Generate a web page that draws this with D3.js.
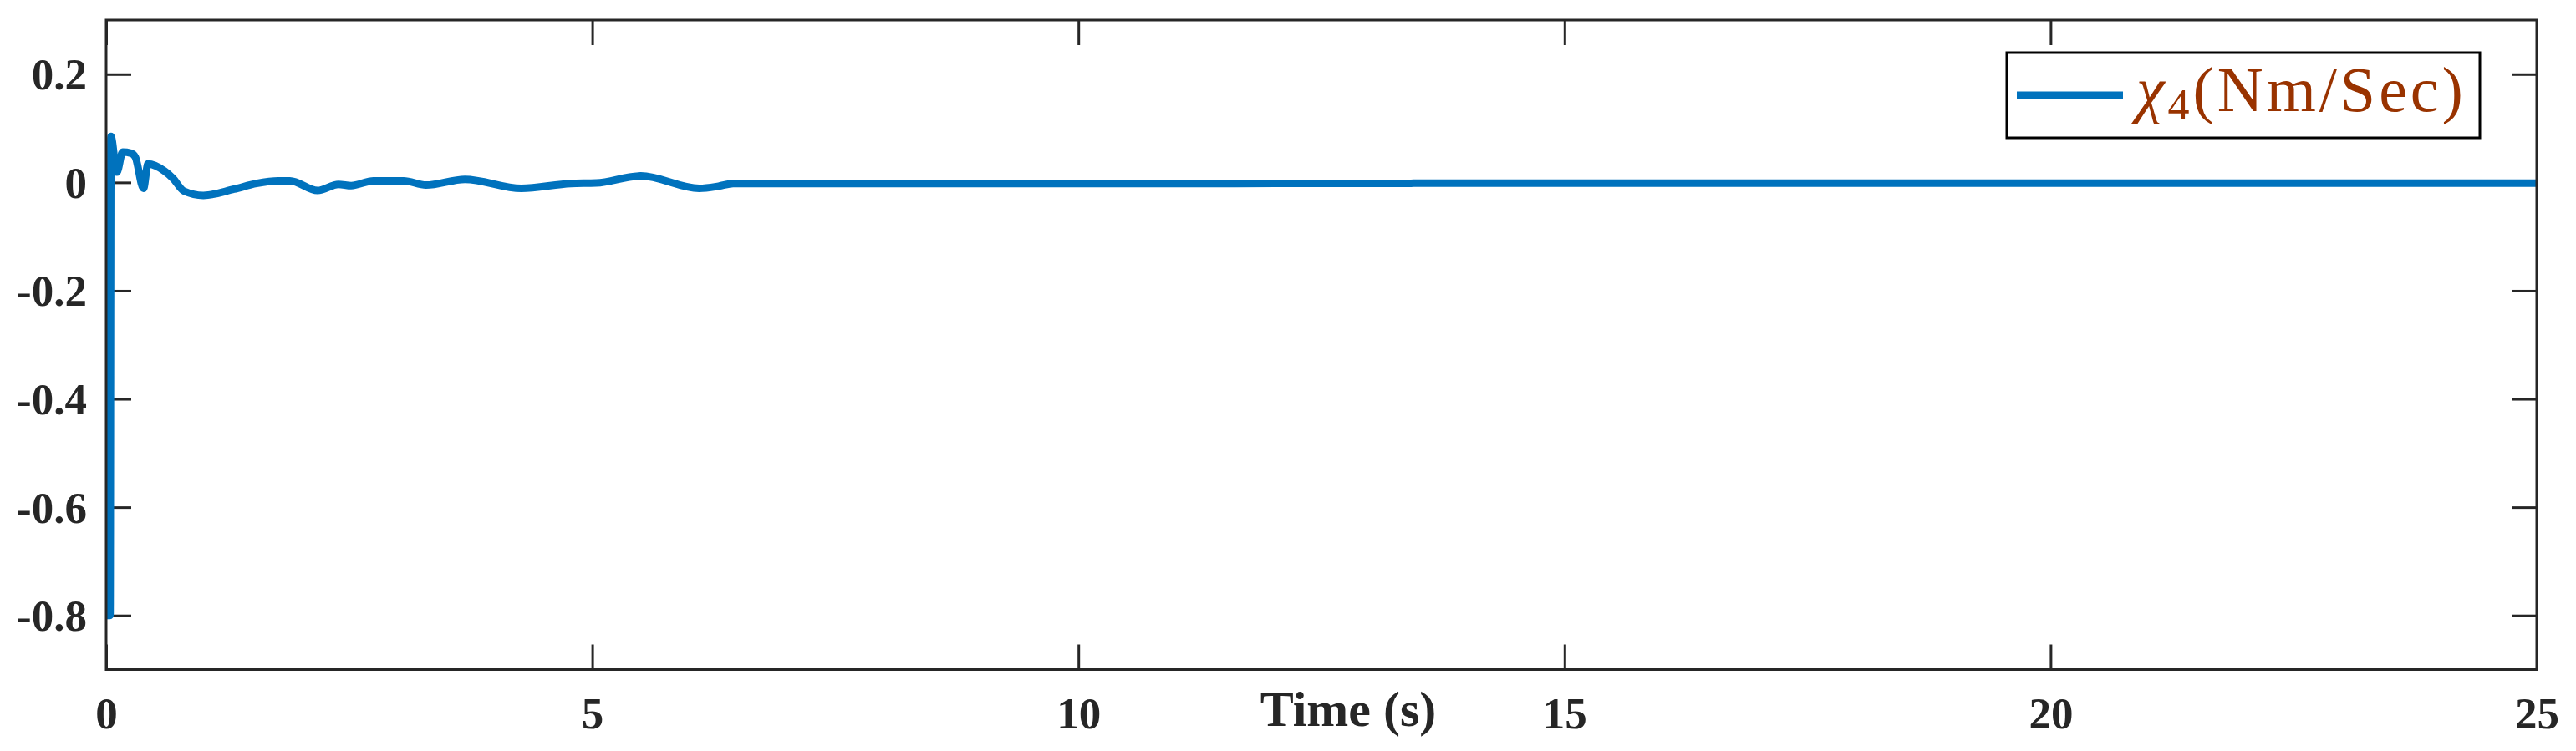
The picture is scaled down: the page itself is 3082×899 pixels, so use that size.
<!DOCTYPE html>
<html>
<head>
<meta charset="utf-8">
<script src="https://cdn.jsdelivr.net/npm/d3@7"></script>
<style>
  html, body { margin: 0; padding: 0; background: #fff; }
  svg { display: block; }
</style>
</head>
<body>
<svg id="chart" width="3082" height="899"></svg>
<script>
// ---- data ----
const timeS = [0, 0.04, 0.049, 0.11, 0.17, 0.255, 0.30, 0.384, 0.43, 0.60, 0.685, 0.80, 1.0, 1.315, 1.545, 1.77, 1.89, 2.175, 2.39, 2.52, 2.75, 3.06, 3.29, 3.69, 4.27, 4.78, 5.04, 5.50, 6.10, 6.30, 6.45, 8.0, 10.0, 13.4, 13.5, 20.0, 25.0];
const chi4 = [-0.8, -0.8, 0.085, 0.019, 0.056, 0.054, 0.047, -0.011, 0.034, 0.021, 0.008, -0.016, -0.024, -0.0125, -0.002, 0.003, 0.003, -0.015, -0.0035, -0.006, 0.003, 0.003, -0.005, 0.0057, -0.011, -0.002, -0.001, 0.012, -0.011, -0.007, -0.002, -0.002, -0.002, -0.0018, -0.0012, -0.0012, -0.0012];
const xTicks = [0, 5, 10, 15, 20, 25];
const yTicks = [-0.8, -0.6, -0.4, -0.2, 0, 0.2];
const xDomain = [0, 25];
const yDomain = [-0.9, 0.3];
const xLabel = "Time (s)";
const legendMain = "χ";
const legendSub = "4";
const legendRest = "(Nm/Sec)";

// ---- layout ----
const svg = d3.select("#chart");
const L = 127, R = 3035, T = 24, B = 801.5;
const x = d3.scaleLinear().domain(xDomain).range([L, R]);
const y = d3.scaleLinear().domain(yDomain).range([B, T]);
const axisColor = "#262626";
const fontFam = "'Liberation Serif', 'Times New Roman', serif";

svg.append("rect").attr("width", 3082).attr("height", 899).attr("fill", "#fff");

const tickLen = 30;
const gx = svg.append("g").attr("transform", `translate(0,${B})`)
  .call(d3.axisBottom(x).tickValues(xTicks).tickSize(-tickLen).tickPadding(40).tickFormat(d3.format("d")));
const gxt = svg.append("g").attr("transform", `translate(0,${T})`)
  .call(d3.axisTop(x).tickValues(xTicks).tickSize(-tickLen).tickFormat(""));
const gy = svg.append("g").attr("transform", `translate(${L},0)`)
  .call(d3.axisLeft(y).tickValues(yTicks).tickSize(-tickLen).tickPadding(23)
    .tickFormat(d => d === 0 ? "0" : d3.format(".1f")(d).replace("−", "-")));
const gyr = svg.append("g").attr("transform", `translate(${R},0)`)
  .call(d3.axisRight(y).tickValues(yTicks).tickSize(-tickLen).tickFormat(""));

[gx, gxt, gy, gyr].forEach(g => {
  g.select(".domain").remove();
  g.selectAll(".tick line").attr("stroke", axisColor).attr("stroke-width", 3);
  g.selectAll(".tick text").attr("fill", axisColor)
    .attr("font-family", fontFam).attr("font-weight", "bold").attr("font-size", 53);
});
gx.selectAll(".tick text").attr("dy", "0.71em").attr("y", 33);
gy.selectAll(".tick text").attr("dy", "0.34em");

// data line
const line = d3.line().x((d, i) => x(timeS[i])).y(d => y(d)).curve(d3.curveMonotoneX);
svg.append("defs").append("clipPath").attr("id", "clip")
  .append("rect").attr("x", L).attr("y", T).attr("width", R - L).attr("height", B - T);
svg.append("path")
  .datum(chi4)
  .attr("d", line)
  .attr("fill", "none")
  .attr("stroke", "#0072BD")
  .attr("stroke-width", 9)
  .attr("stroke-linejoin", "round")
  .attr("clip-path", "url(#clip)");

// box
svg.append("rect").attr("x", L).attr("y", T).attr("width", R - L).attr("height", B - T)
  .attr("fill", "none").attr("stroke", axisColor).attr("stroke-width", 3);

// x label
svg.append("text").attr("x", 1613).attr("y", 869)
  .attr("text-anchor", "middle")
  .attr("font-family", fontFam).attr("font-weight", "bold").attr("font-size", 60)
  .attr("fill", axisColor).text(xLabel);

// legend
const lg = svg.append("g");
lg.append("rect").attr("x", 2401).attr("y", 63).attr("width", 566).attr("height", 102)
  .attr("fill", "#fff").attr("stroke", "#000").attr("stroke-width", 3);
lg.append("line").attr("x1", 2413).attr("x2", 2540).attr("y1", 114).attr("y2", 114)
  .attr("stroke", "#0072BD").attr("stroke-width", 9);
const lt = lg.append("text").attr("x", 2556).attr("y", 133)
  .attr("font-family", fontFam).attr("font-size", 76).attr("fill", "#993300")
  .attr("letter-spacing", 4);
lt.append("tspan").attr("font-style", "italic").text(legendMain);
lt.append("tspan").attr("font-size", 52).attr("dy", 10).text(legendSub);
lt.append("tspan").attr("dy", -10).text(legendRest);
</script>
</body>
</html>
